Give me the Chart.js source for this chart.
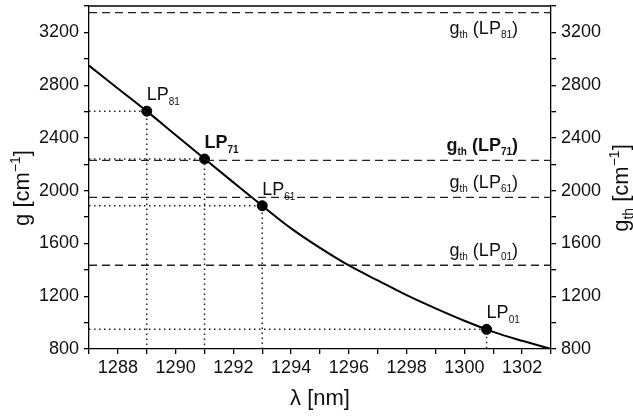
<!DOCTYPE html>
<html><head><meta charset="utf-8">
<script src="https://cdn.jsdelivr.net/npm/chart.js@4"></script>
<style>html,body{margin:0;padding:0;background:#fff}#wrap{width:633px;height:417px;position:relative}</style>
</head><body><div id="wrap"><canvas id="c"></canvas></div>
<script>
// ---- data ----
const lambda = [1287,1288,1289,1290,1291,1292,1293,1294,1295,1296,1297,1298,1299,1300,1301,1302,1303];
const gain   = [2948,2775,2603,2422,2242,2063,1886,1714,1566,1433,1320,1208,1108,1014,930,862,800];
const modeNames = ['81','71','61','01'];
const modeBold = [false,true,false,false];
const modeLambda = [1289,1291,1293,1300.77];
const modeGain = [2603,2240,1886,949];
const thresholdGain = [3350,2230,1950,1435];
const xMin = 1287, xMax = 1303, yMin = 800, yMax = 3400;
const xLabelStep = 2, yLabelStep = 400;

const FONT = "'Liberation Sans', Arial, Helvetica, sans-serif";
const INK = '#111';

const datasets = [];
thresholdGain.forEach(t => datasets.push({
  data: [{x: xMin, y: t}, {x: xMax, y: t}],
  showLine: true, borderColor: '#222', borderWidth: 1.3, borderDash: [8,5], pointRadius: 0
}));
modeLambda.forEach((l, i) => datasets.push({
  data: [{x: xMin, y: modeGain[i]}, {x: l, y: modeGain[i]}, {x: l, y: yMin}],
  showLine: true, borderColor: '#222', borderWidth: 1.5, borderDash: [1.5,3.5], pointRadius: 0
}));
datasets.push({
  data: lambda.map((l, i) => ({x: l, y: gain[i]})),
  showLine: true, borderColor: '#000', borderWidth: 2, pointRadius: 0, cubicInterpolationMode: 'monotone'
});
datasets.push({
  data: modeLambda.map((l, i) => ({x: l, y: modeGain[i]})),
  showLine: false, pointRadius: 5, pointBackgroundColor: '#000', pointBorderColor: '#000'
});

function drawRich(ctx, x, y, parts, align) {
  let w = 0;
  parts.forEach(p => { ctx.font = (p[3] ? 'bold ' : '') + p[1] + 'px ' + FONT; w += ctx.measureText(p[0]).width; });
  let cx = align === 'right' ? x - w : align === 'center' ? x - w / 2 : x;
  ctx.textAlign = 'left'; ctx.textBaseline = 'alphabetic'; ctx.fillStyle = INK;
  parts.forEach(p => {
    ctx.font = (p[3] ? 'bold ' : '') + p[1] + 'px ' + FONT;
    ctx.fillText(p[0], cx, y + (p[2] || 0));
    cx += ctx.measureText(p[0]).width;
  });
}

const textPlugin = {
  id: 'texts',
  afterDraw(chart) {
    const ctx = chart.ctx, xs = chart.scales.x, ys = chart.scales.y, a = chart.chartArea;
    ctx.save();
    ctx.strokeStyle = '#000'; ctx.lineWidth = 1.3;
    ctx.beginPath(); ctx.moveTo(a.left, a.top); ctx.lineTo(a.right, a.top); ctx.stroke();
    modeLambda.forEach((l, i) => {
      const b = modeBold[i];
      drawRich(ctx, xs.getPixelForValue(l), ys.getPixelForValue(modeGain[i]) - 11,
        [['LP', 18, 0, b], [modeNames[i], 10, 5, b]], 'left');
    });
    thresholdGain.forEach((t, i) => {
      const b = modeBold[i];
      const py = ys.getPixelForValue(t);
      const y = (py - a.top < 30) ? py + 21 : py - 9;
      drawRich(ctx, a.right - 33, y,
        [['g', 18, 0, b], ['th', 10, 4, b], [' (LP', 18, 0, b], [modeNames[i], 10, 4, b], [')', 18, 0, b]], 'right');
    });
    ctx.save(); ctx.translate(29, 188); ctx.rotate(-Math.PI / 2);
    drawRich(ctx, 0, 0, [['g [cm', 22], ['\u22121', 14, -9], [']', 22]], 'center');
    ctx.restore();
    ctx.save(); ctx.translate(628, 188); ctx.rotate(-Math.PI / 2);
    drawRich(ctx, 0, 0, [['g', 22], ['th', 14, 5], [' [cm', 22], ['\u22121', 14, -9], [']', 22]], 'center');
    ctx.restore();
    drawRich(ctx, (a.left + a.right) / 2, 405, [['\u03bb [nm]', 22]], 'center');
    ctx.restore();
  }
};

const tickFont = {family: FONT, size: 18};
const gridOpt = {drawOnChartArea: false, drawTicks: true, tickLength: 5, color: '#000', lineWidth: 1.3};
const borderOpt = {display: true, color: '#000', width: 1.3};

new Chart(document.getElementById('c'), {
  type: 'scatter',
  data: {datasets},
  options: {
    responsive: true, maintainAspectRatio: false, animation: false,
    layout: {padding: {top: 5, left: 0, right: 0, bottom: 0}},
    plugins: {legend: {display: false}, tooltip: {enabled: false}},
    scales: {
      x: {
        type: 'linear', min: xMin, max: xMax, position: 'bottom',
        ticks: {stepSize: 1, font: tickFont, color: INK, padding: 3, maxRotation: 0, autoSkip: false,
          callback: v => (v % xLabelStep === 0 ? String(v) : '')},
        grid: gridOpt, border: borderOpt,
        afterFit: s => { s.height = 68; s.paddingLeft = 0; s.paddingRight = 0; }
      },
      y: {
        type: 'linear', min: yMin, max: yMax, position: 'left',
        ticks: {stepSize: 200, font: tickFont, color: INK, padding: 5, autoSkip: false,
          callback: v => ((v - yMin) % yLabelStep === 0 && v < yMax ? String(v) : '')},
        grid: gridOpt, border: borderOpt,
        afterFit: s => { s.width = 89; s.paddingTop = 0; s.paddingBottom = 0; }
      },
      y2: {
        type: 'linear', min: yMin, max: yMax, position: 'right',
        ticks: {stepSize: 200, font: tickFont, color: INK, padding: 5, autoSkip: false,
          callback: v => ((v - yMin) % yLabelStep === 0 && v < yMax ? String(v) : '')},
        grid: gridOpt, border: borderOpt,
        afterFit: s => { s.width = 82; s.paddingTop = 0; s.paddingBottom = 0; }
      }
    }
  },
  plugins: [textPlugin]
});
</script>
</body></html>
